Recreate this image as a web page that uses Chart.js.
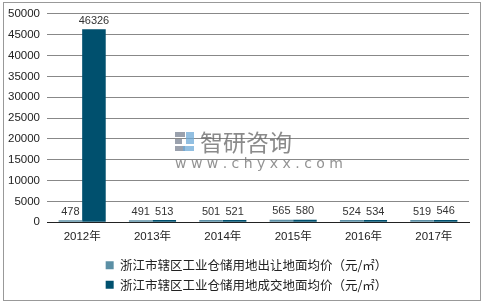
<!DOCTYPE html>
<html>
<head>
<meta charset="utf-8">
<script src="https://cdn.jsdelivr.net/npm/chart.js"></script>
<style>
body {
  margin: 0;
  background: #fff;
}
.frame {
  position: absolute;
  left: 3px;
  top: 2px;
  width: 478px;
  height: 299px;
  border: 1px solid #999;
  box-sizing: border-box;
}
.chart-box {
  position: absolute;
  left: 0;
  top: 0;
  width: 485px;
  height: 304px;
}
</style>
</head>
<body>

<div class="frame"></div>
<div class="chart-box"><canvas id="chart"></canvas></div>

<script>

// ==========================
// データ
// ==========================

const years = ["2012年", "2013年", "2014年", "2015年", "2016年", "2017年"];

const sellPrice = [478, 491, 501, 565, 524, 519];
const dealPrice = [46326, 513, 521, 580, 534, 546];

const sellLabel = "浙江市辖区工业仓储用地出让地面均价（元/㎡）";
const dealLabel = "浙江市辖区工业仓储用地成交地面均价（元/㎡）";

const yTicks = [0, 5000, 10000, 15000, 20000, 25000, 30000, 35000, 40000, 45000, 50000];

const FONT = "'Liberation Sans', 'Noto Sans CJK SC', sans-serif";


// ==========================
// 数値ラベル
// ==========================

const valueLabels = {
  id: "valueLabels",
  afterDatasetsDraw(chart) {
    const ctx = chart.ctx;
    ctx.save();
    ctx.font = "11px " + FONT;
    ctx.fillStyle = "#333";
    ctx.textAlign = "center";
    ctx.textBaseline = "bottom";
    chart.data.datasets.forEach((ds, i) => {
      chart.getDatasetMeta(i).data.forEach((bar, j) => {
        ctx.fillText(String(ds.data[j]), bar.x, bar.y - 3);
      });
    });
    ctx.restore();
  }
};


// ==========================
// 凡例を右へ少しずらす
// ==========================

const legendShift = {
  id: "legendShift",
  afterLayout(chart) {
    chart.legend.left += 12;
    chart.legend.right += 12;
  }
};


// ==========================
// 透かし
// ==========================

const watermark = {
  id: "watermark",
  beforeDatasetsDraw(chart) {
    const ctx = chart.ctx;
    ctx.save();
    ctx.fillStyle = "rgba(120,130,145,0.75)";
    ctx.fillRect(175, 132, 10, 5);
    ctx.fillRect(175, 139, 7, 5);
    ctx.fillRect(175, 146, 10, 5);
    ctx.fillStyle = "rgba(110,170,215,0.75)";
    ctx.fillRect(186, 132, 8, 12);
    ctx.fillRect(183, 146, 11, 5);
    ctx.fillStyle = "rgba(100,100,100,0.75)";
    ctx.font = "23px 'Noto Sans CJK SC', sans-serif";
    ctx.textBaseline = "middle";
    ctx.fillText("智研咨询", 200, 142);
    ctx.font = "14px 'DejaVu Sans', sans-serif";
    ctx.fillStyle = "rgba(110,110,110,0.75)";
    ctx.fillText("w w w . c h y x x . c o m", 175, 164);
    ctx.restore();
  }
};


// ==========================
// チャート
// ==========================

new Chart(document.getElementById("chart"), {

  type: "bar",

  data: {
    labels: years,
    datasets: [
      {
        label: sellLabel,
        data: sellPrice,
        backgroundColor: "#5b8fa5",
        categoryPercentage: 0.67,
        barPercentage: 1.0
      },
      {
        label: dealLabel,
        data: dealPrice,
        backgroundColor: "#00506e",
        categoryPercentage: 0.67,
        barPercentage: 1.0
      }
    ]
  },

  options: {
    responsive: true,
    maintainAspectRatio: false,
    animation: false,
    layout: {
      padding: { top: 12, right: 16, left: 0, bottom: 3 }
    },
    scales: {
      x: {
        grid: { display: false, drawTicks: false },
        border: { color: "#222", width: 1 },
        ticks: {
          color: "#222",
          font: { size: 11.5, family: FONT },
          padding: 8
        }
      },
      y: {
        min: 0,
        max: 50000,
        afterBuildTicks(axis) {
          axis.ticks = yTicks.map(v => ({ value: v }));
        },
        afterFit(axis) {
          axis.width = 47;
        },
        grid: { color: "#888", drawTicks: false },
        border: { display: false },
        ticks: {
          color: "#222",
          font: { size: 11.5, family: FONT },
          padding: 7,
          callback: v => String(v)
        }
      }
    },
    plugins: {
      legend: {
        position: "bottom",
        labels: {
          color: "#222",
          font: { size: 12.5, family: "'Noto Sans CJK SC', sans-serif" },
          boxWidth: 8,
          boxHeight: 8,
          padding: 7
        }
      },
      tooltip: { enabled: false }
    }
  },

  plugins: [watermark, valueLabels, legendShift]

});

</script>

</body>
</html>
